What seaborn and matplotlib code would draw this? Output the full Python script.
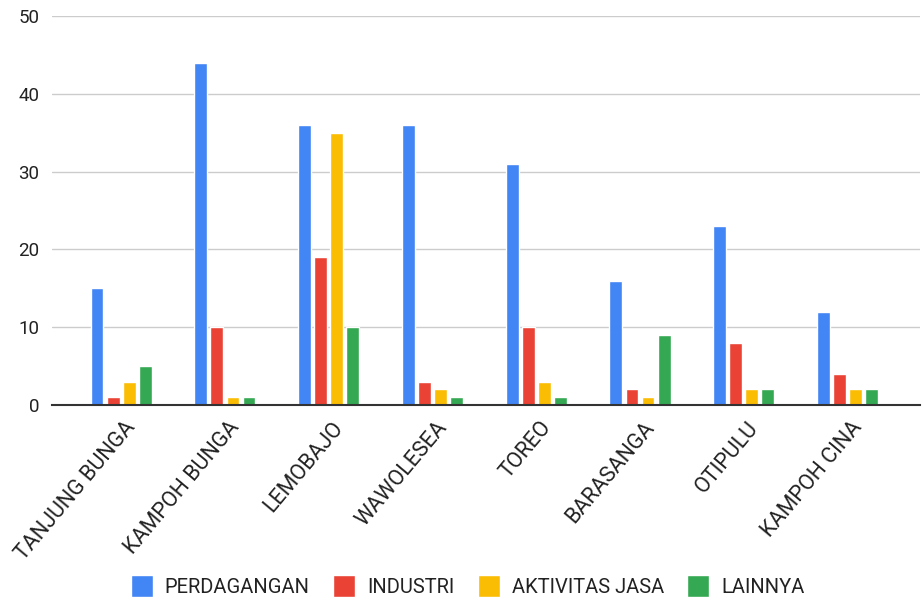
import numpy as np
import pandas as pd
import matplotlib.pyplot as plt
import matplotlib.transforms as mtransforms
import seaborn as sns

#%% data
desa = ['TANJUNG BUNGA', 'KAMPOH BUNGA', 'LEMOBAJO', 'WAWOLESEA',
        'TOREO', 'BARASANGA', 'OTIPULU', 'KAMPOH CINA']
perdagangan = [15, 44, 36, 36, 31, 16, 23, 12]
industri = [1, 10, 19, 3, 10, 2, 8, 4]
jasa = [3, 1, 35, 2, 3, 1, 2, 2]
lainnya = [5, 1, 10, 1, 1, 9, 2, 2]
kategori = ['PERDAGANGAN', 'INDUSTRI', 'AKTIVITAS JASA', 'LAINNYA']
warna = ['#4285F4', '#EA4335', '#FBBC04', '#34A853']

df = pd.DataFrame({'desa': desa, 'PERDAGANGAN': perdagangan, 'INDUSTRI': industri,
                   'AKTIVITAS JASA': jasa, 'LAINNYA': lainnya})
df = df.melt(id_vars='desa', var_name='kategori', value_name='jumlah')

#%% plot
sns.set_style('white')
plt.rcParams['font.family'] = ['Roboto', 'DejaVu Sans']

fig = plt.figure(figsize=(9.23, 5.99), dpi=100)
ax = fig.add_axes([0.056, 0.324, 0.941, 0.649])
sns.barplot(data=df, x='desa', y='jumlah', hue='kategori', hue_order=kategori,
            palette=warna, width=0.62, gap=0.2, saturation=1, ax=ax)

ax.set_ylim(0, 50)
ax.set_yticks(np.arange(0, 51, 10))
ax.yaxis.grid(True, color='#cccccc', linewidth=1)
ax.set_axisbelow(True)
for s in ['top', 'right', 'left']:
    ax.spines[s].set_visible(False)
ax.spines['bottom'].set_color('#333333')
ax.spines['bottom'].set_linewidth(1.5)
ax.spines['bottom'].set_zorder(5)
ax.set_xlabel('')
ax.set_ylabel('')
ax.tick_params(axis='y', length=0, labelsize=13.5, colors='#222222', pad=9)
ax.tick_params(axis='x', length=0, colors='#222222', pad=9)
ax.set_xticks(range(len(desa)))
ax.set_xticklabels(desa, rotation=50, ha='right', va='top',
                   rotation_mode='anchor', fontsize=15.5)
geser = mtransforms.ScaledTranslation(0.03, 0, fig.dpi_scale_trans)
for lbl in ax.get_xticklabels():
    lbl.set_transform(lbl.get_transform() + geser)
ax.set_xlim(-0.669, 7.70)

ax.legend(loc='center', bbox_to_anchor=(0.479, -0.467), ncol=4, frameon=False,
          fontsize=14.5, handlelength=1.1, handleheight=1.3, handletextpad=0.6,
          columnspacing=1.15, labelcolor='#222222')

fig.savefig('out.png', dpi=100)
